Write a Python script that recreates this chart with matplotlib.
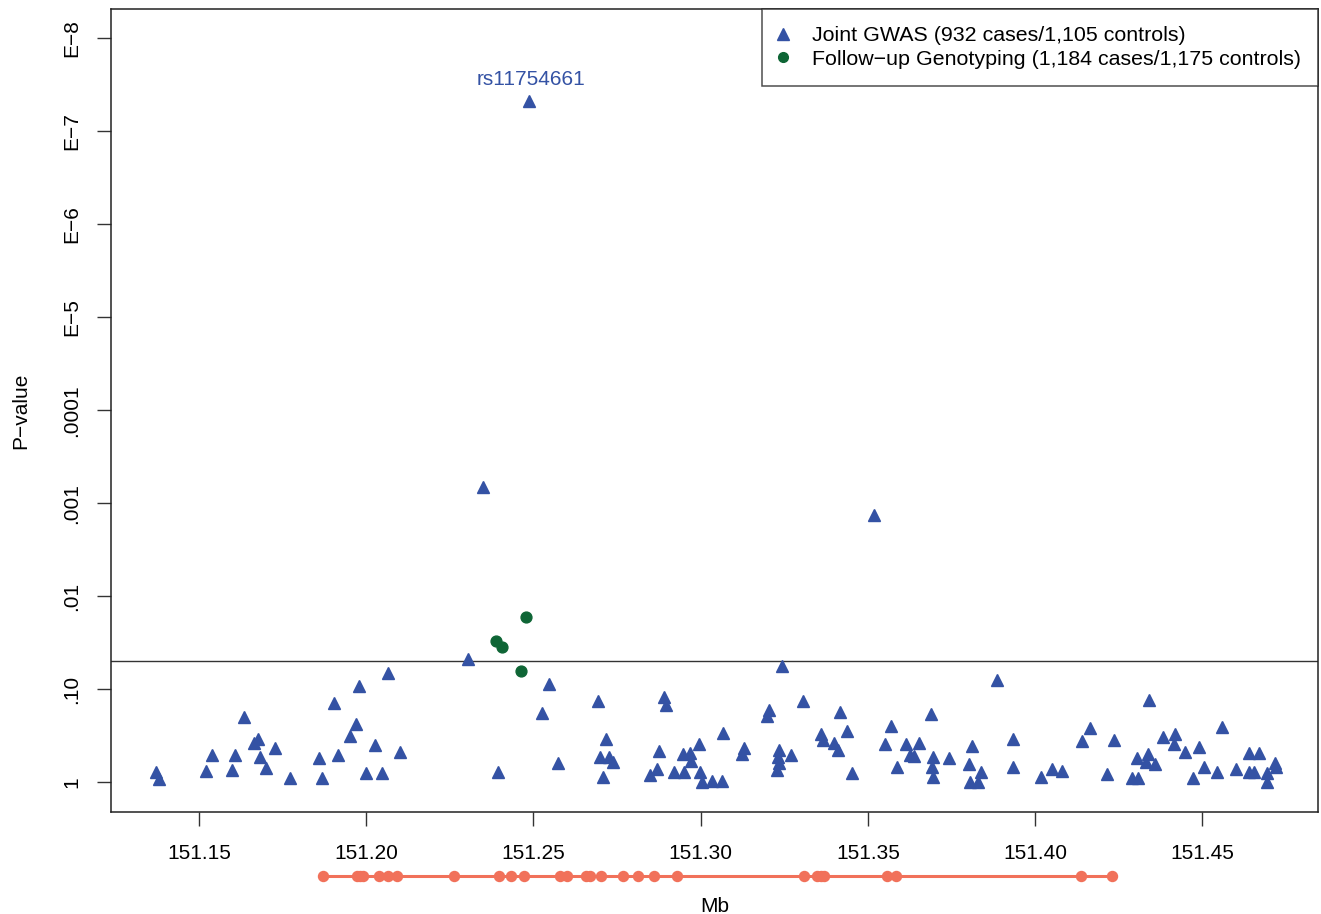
import matplotlib
matplotlib.use("Agg")
import matplotlib.pyplot as plt
from matplotlib.lines import Line2D

plt.rcParams["font.family"] = ["Liberation Sans", "DejaVu Sans"]

# joint GWAS SNPs: position (Mb) and -log10(p)
gwas_mb = [
    151.1371, 151.1380, 151.1520, 151.1540, 151.1600, 151.1608, 151.1634, 151.1665,
    151.1676, 151.1682, 151.1700, 151.1727, 151.1772, 151.1859, 151.1869, 151.1905,
    151.1915, 151.1952, 151.1969, 151.1979, 151.2000, 151.2026, 151.2047, 151.2064,
    151.2102, 151.2303, 151.2393, 151.2350, 151.2487, 151.2548, 151.2526, 151.2573,
    151.2694, 151.2716, 151.2699, 151.2725, 151.2737, 151.2707, 151.2891, 151.2895,
    151.2876, 151.2848, 151.2870, 151.2920, 151.2947, 151.2968, 151.2970, 151.2950,
    151.2996, 151.2998, 151.3003, 151.3033, 151.3065, 151.3068, 151.3130, 151.3123,
    151.3205, 151.3199, 151.3244, 151.3235, 151.3232, 151.3235, 151.3228, 151.3269,
    151.3305, 151.3359, 151.3365, 151.3400, 151.3410, 151.3417, 151.3437, 151.3452,
    151.3518, 151.3551, 151.3569, 151.3586, 151.3614, 151.3626, 151.3638, 151.3653,
    151.3688, 151.3696, 151.3693, 151.3696, 151.3743, 151.3812, 151.3802, 151.3837,
    151.3805, 151.3830, 151.3887, 151.3935, 151.3933, 151.4018, 151.4050, 151.4081,
    151.4141, 151.4164, 151.4214, 151.4236, 151.4289, 151.4309, 151.4304, 151.4339,
    151.4331, 151.4359, 151.4341, 151.4383, 151.4418, 151.4416, 151.4448, 151.4471,
    151.4491, 151.4506, 151.4558, 151.4545, 151.4601, 151.4640, 151.4669, 151.4640,
    151.4655, 151.4693, 151.4695, 151.4718, 151.4720,
]
gwas_logp = [
    0.114, 0.032, 0.125, 0.294, 0.132, 0.294, 0.699, 0.419,
    0.466, 0.275, 0.157, 0.372, 0.049, 0.258, 0.049, 0.849,
    0.294, 0.501, 0.627, 1.039, 0.097, 0.401, 0.097, 1.172,
    0.329, 1.326, 0.114, 3.172, 7.326, 1.054, 0.742, 0.204,
    0.877, 0.466, 0.275, 0.275, 0.215, 0.060, 0.914, 0.831,
    0.337, 0.075, 0.140, 0.114, 0.304, 0.318, 0.229, 0.108,
    0.412, 0.114, 0.006, 0.014, 0.014, 0.527, 0.372, 0.301,
    0.777, 0.713, 1.254, 0.347, 0.275, 0.204, 0.132, 0.294,
    0.874, 0.516, 0.455, 0.419, 0.347, 0.759, 0.552, 0.103,
    2.874, 0.412, 0.605, 0.168, 0.409, 0.294, 0.283, 0.426,
    0.734, 0.269, 0.168, 0.060, 0.258, 0.394, 0.197, 0.108,
    0.006, 0.006, 1.100, 0.466, 0.168, 0.054, 0.140, 0.122,
    0.444, 0.581, 0.086, 0.455, 0.049, 0.049, 0.265, 0.301,
    0.215, 0.194, 0.885, 0.490, 0.516, 0.412, 0.329, 0.043,
    0.383, 0.168, 0.591, 0.108, 0.140, 0.318, 0.312, 0.108,
    0.108, 0.006, 0.097, 0.211, 0.168,
]

# follow-up genotyping
follow_mb = [151.2478, 151.2388, 151.2405, 151.2462]
follow_logp = [1.781, 1.519, 1.455, 1.200]

# gene exons along the bottom track
exon_mb = [
    151.1870, 151.1972, 151.1981, 151.1991, 151.2038, 151.2066, 151.2091, 151.2263,
    151.2397, 151.2432, 151.2473, 151.2579, 151.2599, 151.2656, 151.2669, 151.2702,
    151.2769, 151.2813, 151.2861, 151.2930, 151.3310, 151.3347, 151.3359, 151.3369,
    151.3556, 151.3584, 151.4137, 151.4229,
]

top_snp = "rs11754661"
top_snp_mb = 151.2487
top_snp_logp = 7.326

x_ticks = [151.15, 151.20, 151.25, 151.30, 151.35, 151.40, 151.45]
y_ticks = [0, 1, 2, 3, 4, 5, 6, 7, 8]
y_labels = ["1", ".10", ".01", ".001", ".0001", "E\u22125", "E\u22126", "E\u22127", "E\u22128"]
threshold = 1.301  # p = 0.05

blue = "#3452A4"
green = "#0E6535"
orange = "#F1715A"

fig = plt.figure(figsize=(13.21, 9.14), dpi=100)
ax = fig.add_axes([0.0838, 0.1119, 0.9139, 0.8779])

ax.plot(gwas_mb, gwas_logp, linestyle="none", marker="^", ms=8.5,
        color=blue, mec=blue, zorder=3)
ax.plot(follow_mb, follow_logp, linestyle="none", marker="o", ms=7.8,
        color=green, mec=green, zorder=3)
ax.axhline(threshold, color="#333333", lw=1.0, zorder=2)

ax.text(top_snp_mb + 0.0007, top_snp_logp + 0.236, top_snp, color=blue,
        fontsize=15, ha="center", va="center")

# gene track below the axis
xt = ax.get_xaxis_transform()
ax.plot([exon_mb[0], exon_mb[-1]], [-0.0798, -0.0798], transform=xt,
        color=orange, lw=2.2, clip_on=False)
ax.plot(exon_mb, [-0.0798] * len(exon_mb), transform=xt, linestyle="none",
        marker="o", ms=7.2, color=orange, clip_on=False)

ax.set_xlim(151.1236, 151.4846)
ax.set_ylim(-0.316, 8.312)
ax.set_xticks(x_ticks)
ax.set_xticklabels([f"{v:.2f}" for v in x_ticks])
ax.set_yticks(y_ticks)
ax.set_yticklabels(y_labels, rotation=90, va="center")
ax.tick_params(axis="both", direction="out", length=10, width=1.0,
               labelsize=15, color="#333333")
ax.tick_params(axis="x", pad=13)
ax.tick_params(axis="y", pad=11)
for s in ax.spines.values():
    s.set_linewidth(1.1)
    s.set_color("#222222")

ax.set_xlabel("Mb", fontsize=15)
ax.xaxis.set_label_coords(0.5, -0.106)
ax.set_ylabel("P\u2212value", fontsize=15)
ax.yaxis.set_label_coords(-0.067, 0.5)

handles = [
    Line2D([], [], linestyle="none", marker="^", ms=8, color=blue),
    Line2D([], [], linestyle="none", marker="o", ms=7, color=green),
]
labels = [
    "Joint GWAS (932 cases/1,105 controls)",
    "Follow\u2212up Genotyping (1,184 cases/1,175 controls)",
]
leg = ax.legend(handles, labels, loc="upper right", fontsize=15.4, frameon=True,
                fancybox=False, borderaxespad=0, handlelength=0.4,
                handletextpad=1.14, labelspacing=0.2, borderpad=0.8)
leg.get_frame().set_edgecolor("#222222")
leg.get_frame().set_linewidth(1.1)

fig.savefig("out.png", dpi=100)
